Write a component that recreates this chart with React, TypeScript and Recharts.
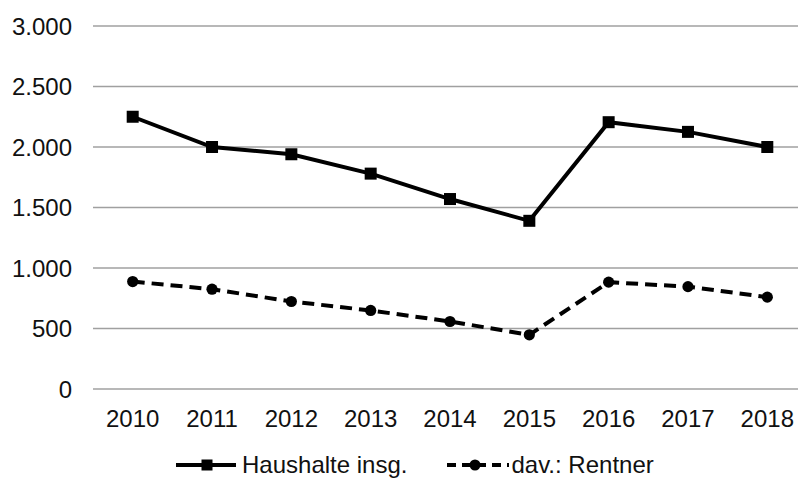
import { LineChart, Line, XAxis, YAxis, CartesianGrid, Legend } from 'recharts'

const years = ['2010', '2011', '2012', '2013', '2014', '2015', '2016', '2017', '2018']
const haushalte = [2250, 2000, 1940, 1780, 1570, 1390, 2205, 2125, 2000]
const rentner = [888, 825, 723, 649, 558, 448, 883, 846, 759]
const yTicks = [0, 500, 1000, 1500, 2000, 2500, 3000]

const data = years.map((year, i) => ({ year, haushalte: haushalte[i], rentner: rentner[i] }))

const FONT = '"Liberation Sans", Arial, sans-serif'
const TEXT = '#111'

const fmt = (v: number) => String(v).replace(/\B(?=(\d{3})+(?!\d))/g, '.')

const SquareDot = (props: any) => {
  const { cx, cy, index } = props
  if (cx == null || cy == null) return null
  return <rect key={index} x={cx - 6} y={cy - 6} width={12} height={12} fill="#000" />
}

const CircleDot = (props: any) => {
  const { cx, cy, index } = props
  if (cx == null || cy == null) return null
  return <circle key={index} cx={cx} cy={cy} r={5.6} fill="#000" />
}

function LegendContent() {
  return (
    <div
      style={{
        height: 28,
        display: 'flex',
        alignItems: 'center',
        paddingLeft: 176,
        fontFamily: FONT,
        fontSize: 24,
        color: TEXT,
        whiteSpace: 'nowrap',
      }}
    >
      <svg width={60} height={14} style={{ marginRight: 6 }}>
        <line x1={0} y1={7} x2={60} y2={7} stroke="#000" strokeWidth={4} />
        <rect x={25.5} y={1.5} width={11} height={11} fill="#000" />
      </svg>
      <span>Haushalte insg.</span>
      <svg width={62} height={14} style={{ marginLeft: 40, marginRight: 2 }}>
        <line x1={0} y1={7} x2={62} y2={7} stroke="#000" strokeWidth={4} strokeDasharray="9 6" />
        <circle cx={28} cy={7} r={5.5} fill="#000" />
      </svg>
      <span>dav.: Rentner</span>
    </div>
  )
}

export default function App() {
  return (
    <div>
      <style>{'html,body{margin:0;overflow:hidden;background:#fff}'}</style>
      <LineChart width={807} height={479} data={data} margin={{ top: 26, right: 0, left: 0, bottom: 0 }}>
        <CartesianGrid vertical={false} stroke="#a0a0a0" strokeWidth={1.3} />
        <XAxis
          dataKey="year"
          axisLine={false}
          tickLine={false}
          height={62}
          tickMargin={15}
          padding={{ left: 39.7, right: 39.7 }}
          tick={{ fontFamily: FONT, fontSize: 24, fill: TEXT }}
          interval={0}
        />
        <YAxis
          width={93}
          domain={[0, 3000]}
          ticks={yTicks}
          axisLine={false}
          tickLine={false}
          tickMargin={15}
          tickFormatter={fmt}
          tick={{ fontFamily: FONT, fontSize: 24, fill: TEXT }}
        />
        <Legend verticalAlign="bottom" wrapperStyle={{ left: 0, width: 807 }} content={() => <LegendContent />} />
        <Line
          dataKey="haushalte"
          name="Haushalte insg."
          stroke="#000"
          strokeWidth={4}
          dot={SquareDot}
          activeDot={false}
          isAnimationActive={false}
        />
        <Line
          dataKey="rentner"
          name="dav.: Rentner"
          stroke="#000"
          strokeWidth={4}
          strokeDasharray="12 7"
          dot={CircleDot}
          activeDot={false}
          isAnimationActive={false}
        />
      </LineChart>
    </div>
  )
}
